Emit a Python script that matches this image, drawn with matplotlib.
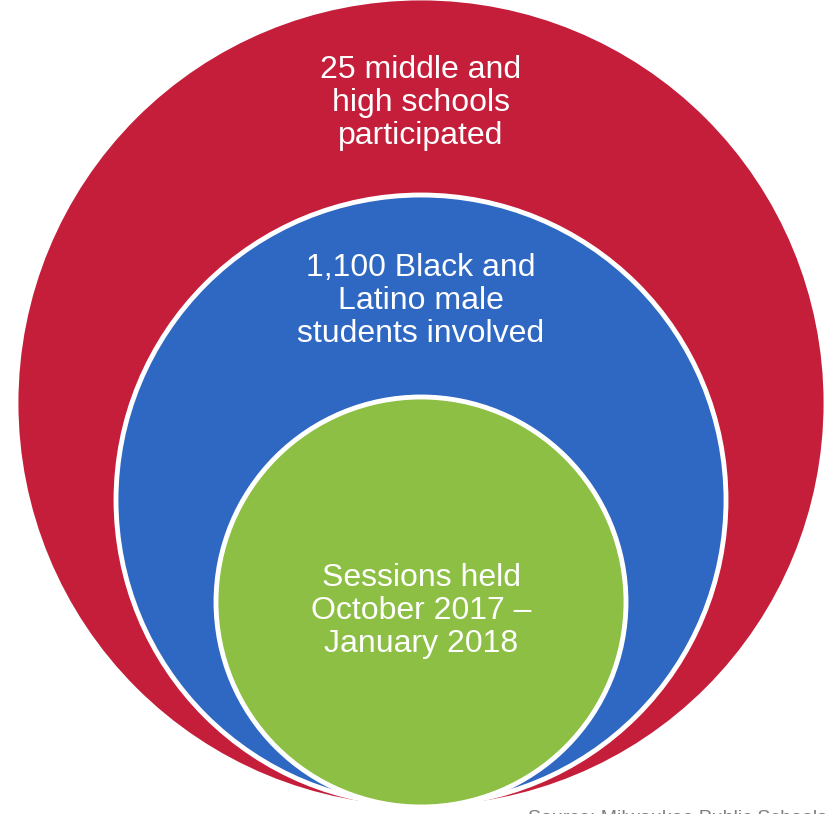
#! /usr/bin/env python3

import matplotlib
matplotlib.use('Agg')
import matplotlib.pyplot as plt
from matplotlib.patches import Circle

''' Nested circles: schools > students > sessions. '''

# outer to inner: (center x, center y, radius) in picture pixels
circle_labels = [
    ['25 middle and', 'high schools', 'participated'],
    ['1,100 Black and', 'Latino male', 'students involved'],
    ['Sessions held', 'October 2017 \u2013', 'January 2018'],
]
circle_colors = ['#C41E3A', '#2E68C3', '#8CBF44']
centers_y = [403, 500, 602]
radii = [405, 305, 205]
label_top_y = [70, 268, 578]
source_text = 'Source: Milwaukee Public Schools'

W, H = 827, 814
center_x = 421
line_step = 33

plt.rcParams['font.family'] = ['Liberation Sans', 'DejaVu Sans']

fig = plt.figure(figsize=(W / 100., H / 100.), dpi=100)
ax = fig.add_axes([0, 0, 1, 1])
ax.set_xlim(0, W)
ax.set_ylim(H, 0)
ax.set_aspect('equal')
ax.axis('off')

for cy, r, col in zip(centers_y, radii, circle_colors):
    ax.add_patch(Circle((center_x, cy), r, facecolor=col, edgecolor='white', linewidth=3.5))

for lines, y0 in zip(circle_labels, label_top_y):
    for i, line in enumerate(lines):
        ax.text(center_x, y0 + i * line_step, line, color='white', fontsize=23,
                ha='center', va='center')

# source note sits at the very bottom edge, as in the original slide
ax.text(528, 810, source_text, color='#7F7F7F', fontsize=14, ha='left', va='top')

fig.savefig('out.png', dpi=100)
